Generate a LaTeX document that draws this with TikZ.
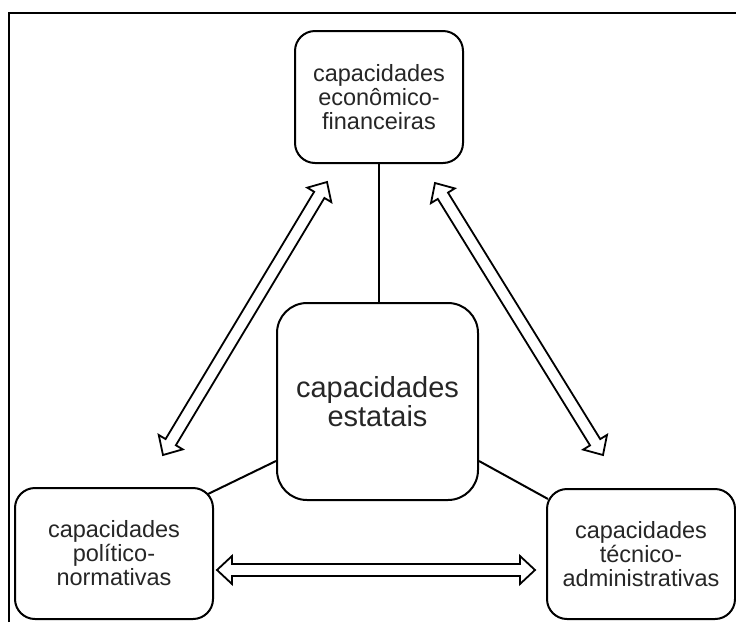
\documentclass[tikz,border=0pt]{standalone}
\usepackage{fontspec}
\setmainfont{Liberation Sans}
\usetikzlibrary{calc}

\tikzset{
  capbox/.style={draw, line width=2pt, rounded corners=20pt, align=center,
    text=black!85, inner sep=0pt,
    font=\fontsize{23.5}{24}\selectfont},
  corebox/.style={capbox, rounded corners=30pt,
    font=\fontsize{29}{28.5}\selectfont},
  link/.style={line width=2pt},
  arrowline/.style={line width=1.8pt, line join=miter, fill=white},
}

% hollow two-headed arrow between two named points
\newcommand\hollowarrow[2]{%
  \draw[arrowline] let \p1=($(#2)-(#1)$), \n1={atan2(\y1,\x1)} in
    (#1)
    -- ($(#1)+(\n1:15pt)+(\n1+90:14pt)$)
    -- ($(#1)+(\n1:15pt)+(\n1+90:6pt)$)
    -- ($(#2)+(\n1:-15pt)+(\n1+90:6pt)$)
    -- ($(#2)+(\n1:-15pt)+(\n1+90:14pt)$)
    -- (#2)
    -- ($(#2)+(\n1:-15pt)+(\n1-90:14pt)$)
    -- ($(#2)+(\n1:-15pt)+(\n1-90:6pt)$)
    -- ($(#1)+(\n1:15pt)+(\n1-90:6pt)$)
    -- ($(#1)+(\n1:15pt)+(\n1-90:14pt)$)
    -- cycle;}

\begin{document}
\begin{tikzpicture}[x=1pt,y=-1pt]
  \useasboundingbox (0,0) rectangle (736,622);

  % outer frame (top and left edges)
  \draw[line width=2pt] (9,622) -- (9,13) -- (736,13);

  % boxes
  \node[capbox, minimum width=168pt, minimum height=132pt] (eco) at (379,97)
    {capacidades\\econômico-\\financeiras};
  \node[corebox, minimum width=201pt, minimum height=197pt] (core) at (377.5,401.5)
    {capacidades\\estatais};
  \node[capbox, minimum width=198pt, minimum height=131pt] (pol) at (114,553.5)
    {capacidades\\político-\\normativas};
  \node[capbox, minimum width=188pt, minimum height=130pt] (tec) at (641,554)
    {capacidades\\técnico-\\administrativas};

  % links to the core
  \draw[link] (eco.south) -- (eco.south |- core.north);
  \draw[link] ($(core.south west)+(0,-40)$) -- ($(pol.north east)+(-6,7)$);
  \draw[link] ($(core.south east)+(0,-40)$) -- ($(tec.north west)+(2,11)$);

  % arrow end points
  \coordinate (a1) at (163,455);
  \coordinate (a2) at (327,182);
  \coordinate (b1) at (435,183);
  \coordinate (b2) at (603,455);
  \coordinate (c1) at (217,570);
  \coordinate (c2) at (535,570);

  \hollowarrow{a1}{a2}
  \hollowarrow{b1}{b2}
  \hollowarrow{c1}{c2}
\end{tikzpicture}
\end{document}
